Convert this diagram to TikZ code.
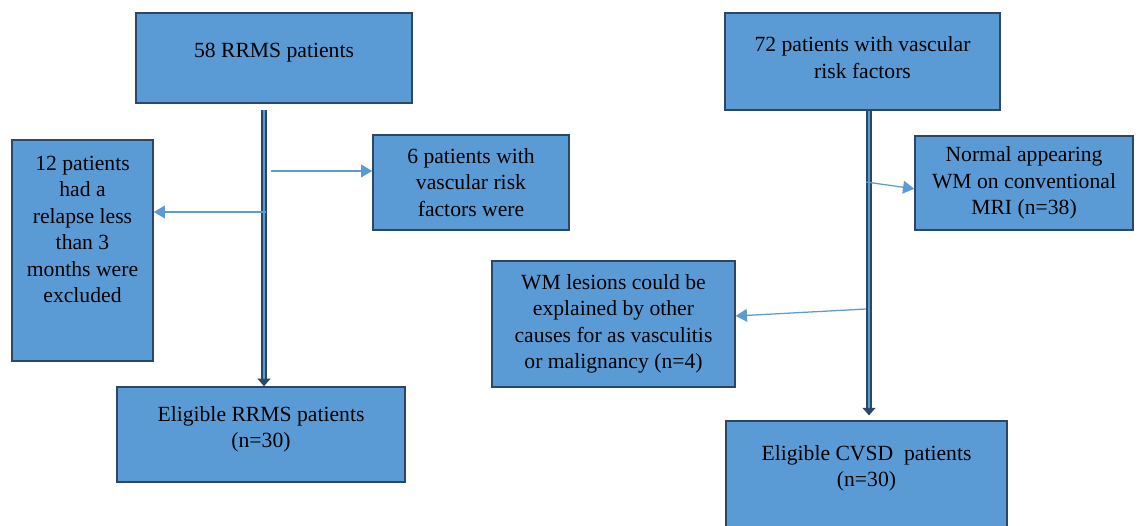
\documentclass[tikz,border=0pt]{standalone}
\usepackage{fontspec}
\setmainfont{Liberation Serif}
\usetikzlibrary{arrows.meta}
\definecolor{boxfill}{HTML}{5B9BD5}
\definecolor{boxline}{HTML}{2C4763}

\begin{document}
\begin{tikzpicture}[
  x=0.25mm,y=-0.25mm,
  box/.style={rectangle,draw=boxline,fill=boxfill,line width=1.1pt,
    inner sep=2pt,align=center,font=\fontsize{15.4}{18.8}\selectfont},
  trunk/.style={draw=boxline,double=boxfill,line width=1.2pt,double distance=2pt,
    -{Triangle[width=3.2mm,length=1.9mm]}},
  side/.style={draw=boxfill,line width=.9pt,-{Triangle[width=3.2mm,length=2.8mm]}}
]
  \useasboundingbox (0,0) rectangle (1138,525);
  \node[box,minimum width=69mm,minimum height=22.5mm,text depth=3.7mm] (rrms) at (274,58)
    {58 RRMS patients};
  \node[box,minimum width=35.25mm,minimum height=55.25mm] (excl) at (82.5,250.5)
    {12 patients\\had a\\relapse less\\than 3\\months were\\excluded\\[4mm]\mbox{}};
  \node[box,minimum width=49mm,minimum height=23.75mm] (vasc1) at (471,182.5)
    {6 patients with\\vascular risk\\factors were};
  \node[box,minimum width=72mm,minimum height=23.75mm,text depth=3.7mm] (elig1) at (261,434.5)
    {Eligible RRMS patients\\(n=30)};
  \node[box,minimum width=68.75mm,minimum height=24.25mm,text depth=2mm] (vrf) at (862.5,61.5)
    {72 patients with vascular\\risk factors};
  \node[box,minimum width=54.5mm,minimum height=23.5mm] (normal) at (1024,182.8)
    {Normal appearing\\WM on conventional\\MRI (n=38)};
  \node[box,minimum width=60.75mm,minimum height=31.5mm] (lesion) at (613.5,324)
    {WM lesions could be\\explained by other\\causes for as vasculitis\\or malignancy (n=4)};
  \node[box,minimum width=70.25mm,minimum height=27.25mm,text depth=4.7mm] (elig2) at (866.5,475.5)
    {Eligible CVSD~ patients\\(n=30)};
  \coordinate (a1) at (264,110);
  \coordinate (a2) at (869,111);
  \coordinate (b1) at (271,171);
  \coordinate (b2) at (266,212);
  \coordinate (c1) at (866,182);
  \coordinate (c2) at (866,309);
  \draw[trunk] (a1) -- (a1 |- elig1.north);
  \draw[trunk,shorten >=1.2mm] (a2) -- (a2 |- elig2.north);
  \draw[side] (b1) -- (b1 -| vasc1.west);
  \draw[side] (b2) -- (b2 -| excl.east);
  \draw[side] (c1) -- ([yshift=-1.5mm]normal.west);
  \draw[side] (c2) -- ([yshift=2mm]lesion.east);
\end{tikzpicture}
\end{document}
